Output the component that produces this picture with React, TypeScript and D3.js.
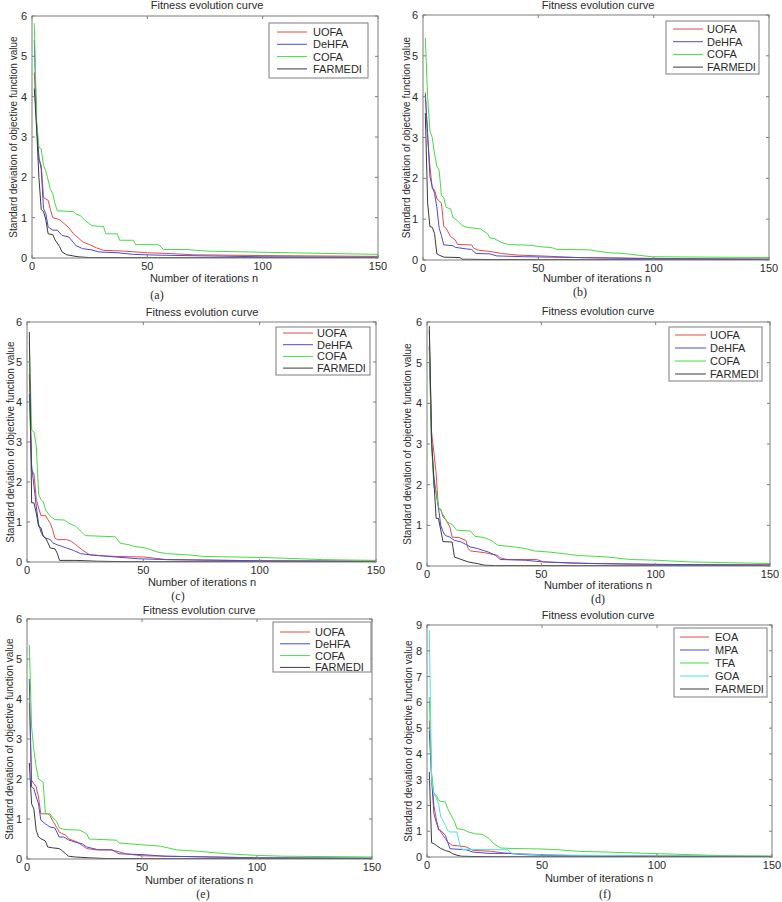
import React from 'react';
import * as d3 from 'd3';

type Pt = [number, number];

const TITLE = 'Fitness evolution curve';
const X_LABEL = 'Number of iterations n';
const Y_LABEL = 'Standard deviation of objective function value';
const X_TICKS = [0, 50, 100, 150];
const Y_TICKS_6 = [0, 1, 2, 3, 4, 5, 6];
const Y_TICKS_9 = [0, 1, 2, 3, 4, 5, 6, 7, 8, 9];
const PANEL_TAGS = ['(a)', '(b)', '(c)', '(d)', '(e)', '(f)'];
const NAMES_AE = ['UOFA', 'DeHFA', 'COFA', 'FARMEDI'];
const NAMES_F = ['EOA', 'MPA', 'TFA', 'GOA', 'FARMEDI'];

// Panel (a)
const A_UOFA: Pt[] = [[1,4.6],[2,3.3],[3,2.45],[4,2.3],[5,1.5],[7,1.43],[8,1.2],[9,1.0],[12,0.95],[14,0.85],[16,0.75],[18,0.6],[20,0.5],[22,0.4],[25,0.33],[28,0.25],[31,0.19],[40,0.17],[50,0.13],[60,0.11],[70,0.08],[100,0.06],[150,0.04]];
const A_DEHFA: Pt[] = [[1,5.4],[2,3.3],[3,2.5],[4,2.2],[5,1.22],[6,1.1],[7,0.77],[9,0.69],[11,0.69],[13,0.56],[16,0.52],[19,0.31],[22,0.23],[26,0.2],[29,0.15],[37,0.13],[44,0.09],[55,0.07],[100,0.03],[150,0.02]];
const A_COFA: Pt[] = [[1,5.82],[2,3.4],[3,2.75],[4,2.7],[5,2.29],[6,2.16],[8,1.7],[9,1.59],[10,1.34],[11,1.17],[18,1.15],[19,1.09],[21,1.05],[23,0.93],[26,0.8],[31,0.78],[32,0.6],[37,0.6],[38,0.44],[44,0.44],[45,0.33],[55,0.33],[57,0.21],[67,0.21],[76,0.17],[102,0.14],[150,0.09]];
const A_FARMEDI: Pt[] = [[1,4.2],[2,3.2],[3,2.0],[4,1.2],[5,1.15],[6,0.95],[7,0.6],[9,0.58],[10,0.45],[12,0.28],[13,0.15],[15,0.08],[20,0.03],[25,0.01],[150,0.005]];

// Panel (b)
const B_UOFA: Pt[] = [[1,4.1],[2,3.0],[3,2.3],[4,1.75],[5,1.72],[6,1.5],[7,1.45],[8,1.39],[9,0.82],[10,0.78],[12,0.57],[14,0.49],[15,0.38],[21,0.37],[22,0.29],[24,0.24],[29,0.21],[34,0.16],[41,0.12],[51,0.1],[67,0.06],[100,0.04],[150,0.02]];
const B_DEHFA: Pt[] = [[1,4.05],[2,3.1],[3,2.04],[4,1.8],[5,1.63],[6,1.3],[7,0.78],[8,0.6],[9,0.37],[13,0.35],[14,0.31],[19,0.27],[21,0.26],[23,0.16],[29,0.15],[32,0.1],[44,0.08],[100,0.03],[150,0.02]];
const B_COFA: Pt[] = [[1,5.44],[2,4.0],[3,3.17],[4,3.0],[5,2.6],[6,2.3],[7,2.2],[8,1.58],[9,1.53],[10,1.29],[12,1.25],[13,1.04],[15,0.96],[17,0.84],[19,0.8],[25,0.76],[28,0.64],[29,0.54],[31,0.52],[34,0.43],[37,0.38],[47,0.36],[50,0.33],[56,0.3],[58,0.26],[72,0.25],[80,0.18],[87,0.16],[99,0.08],[150,0.06]];
const B_FARMEDI: Pt[] = [[1,3.6],[2,1.4],[3,0.82],[4,0.8],[5,0.65],[6,0.15],[7,0.12],[9,0.07],[16,0.06],[17,0.02],[30,0.01],[150,0.005]];

// Panel (c)
const C_UOFA: Pt[] = [[1,4.7],[2,2.3],[3,2.2],[4,1.56],[5,1.35],[6,1.16],[8,1.16],[9,1.06],[10,0.97],[11,0.81],[12,0.6],[13,0.56],[17,0.56],[19,0.52],[21,0.43],[24,0.29],[27,0.18],[31,0.16],[38,0.14],[50,0.125],[54,0.1],[60,0.06],[100,0.03],[150,0.02]];
const C_DEHFA: Pt[] = [[1,4.2],[2,2.4],[3,1.9],[4,1.39],[5,0.95],[6,0.75],[7,0.64],[8,0.6],[10,0.56],[11,0.48],[13,0.43],[15,0.39],[17,0.35],[20,0.29],[23,0.21],[27,0.18],[31,0.16],[38,0.125],[48,0.08],[60,0.06],[100,0.03],[150,0.02]];
const C_COFA: Pt[] = [[1,5.5],[2,3.3],[3,3.25],[4,2.9],[5,1.7],[6,1.56],[7,1.5],[8,1.3],[9,1.22],[10,1.14],[11,1.1],[12,1.06],[16,1.05],[18,0.97],[21,0.89],[24,0.72],[25,0.66],[38,0.63],[40,0.47],[44,0.43],[46,0.39],[51,0.35],[56,0.25],[60,0.21],[69,0.18],[76,0.14],[89,0.125],[103,0.11],[113,0.09],[127,0.06],[150,0.04]];
const C_FARMEDI: Pt[] = [[1,5.75],[2,1.48],[3,1.48],[4,1.22],[5,0.89],[6,0.85],[7,0.64],[8,0.6],[9,0.48],[10,0.35],[12,0.33],[13,0.22],[14,0.04],[21,0.04],[30,0.02],[40,0.01],[150,0.005]];

// Panel (d)
const D_UOFA: Pt[] = [[1,5.8],[2,3.3],[3,2.8],[4,2.27],[5,1.41],[6,1.4],[7,1.2],[8,1.16],[9,1.06],[10,0.96],[11,0.71],[14,0.7],[17,0.63],[18,0.43],[19,0.37],[25,0.33],[31,0.26],[32,0.2],[35,0.16],[48,0.16],[51,0.1],[63,0.07],[100,0.04],[150,0.03]];
const D_DEHFA: Pt[] = [[1,5.4],[2,3.0],[3,2.19],[4,1.78],[5,1.45],[6,1.0],[7,0.85],[8,0.75],[10,0.71],[12,0.63],[15,0.59],[17,0.53],[19,0.47],[22,0.43],[27,0.34],[30,0.26],[32,0.16],[43,0.14],[51,0.1],[72,0.06],[100,0.04],[150,0.02]];
const D_COFA: Pt[] = [[1,5.4],[2,3.0],[3,1.94],[4,1.86],[5,1.45],[6,1.37],[8,1.16],[9,1.08],[11,1.02],[13,0.88],[19,0.86],[21,0.73],[25,0.7],[28,0.63],[31,0.51],[38,0.47],[43,0.43],[47,0.37],[54,0.34],[60,0.3],[66,0.26],[79,0.22],[89,0.16],[101,0.14],[115,0.1],[150,0.06]];
const D_FARMEDI: Pt[] = [[1,5.9],[2,3.1],[3,2.1],[4,1.17],[5,1.17],[6,0.89],[7,0.6],[11,0.59],[12,0.22],[14,0.18],[18,0.1],[22,0.06],[25,0.02],[30,0.01],[150,0.005]];

// Panel (e)
const E_UOFA: Pt[] = [[1,3.9],[2,1.97],[3,1.88],[4,1.8],[5,1.55],[6,1.13],[9,1.13],[10,1.09],[11,0.97],[13,0.78],[14,0.67],[17,0.59],[18,0.51],[22,0.42],[24,0.34],[26,0.26],[30,0.23],[36,0.23],[40,0.18],[43,0.13],[50,0.08],[60,0.07],[100,0.03],[150,0.02]];
const E_DEHFA: Pt[] = [[1,4.5],[2,1.8],[3,1.76],[4,1.55],[5,1.38],[6,0.97],[8,0.88],[9,0.84],[10,0.8],[12,0.78],[13,0.67],[14,0.55],[16,0.55],[18,0.48],[21,0.42],[24,0.38],[26,0.3],[31,0.23],[37,0.23],[40,0.13],[50,0.11],[60,0.07],[100,0.03],[150,0.02]];
const E_COFA: Pt[] = [[1,5.35],[2,3.3],[3,2.72],[4,2.3],[5,2.0],[7,1.92],[8,1.13],[10,1.13],[11,1.05],[13,0.93],[14,0.78],[16,0.74],[23,0.72],[26,0.63],[27,0.5],[39,0.47],[40,0.4],[49,0.36],[58,0.32],[65,0.23],[75,0.19],[87,0.13],[100,0.09],[111,0.07],[150,0.05]];
const E_FARMEDI: Pt[] = [[1,2.4],[2,1.38],[3,1.25],[4,0.72],[5,0.55],[6,0.51],[7,0.48],[8,0.45],[9,0.3],[11,0.28],[14,0.26],[15,0.22],[17,0.12],[18,0.07],[21,0.05],[27,0.03],[35,0.01],[150,0.005]];

// Panel (f)
const F_EOA: Pt[] = [[1,5.3],[2,3.17],[3,2.0],[4,1.5],[5,1.1],[6,0.97],[8,0.71],[9,0.58],[11,0.45],[14,0.43],[17,0.39],[20,0.26],[28,0.22],[34,0.15],[50,0.09],[66,0.05],[100,0.04],[150,0.02]];
const F_MPA: Pt[] = [[1,4.9],[2,3.04],[3,1.68],[4,1.36],[5,1.07],[6,1.03],[8,0.84],[9,0.58],[10,0.32],[17,0.28],[20,0.19],[27,0.14],[36,0.14],[42,0.09],[57,0.05],[100,0.03],[150,0.02]];
const F_TFA: Pt[] = [[1,6.2],[2,3.23],[3,2.46],[4,2.4],[5,2.2],[6,2.16],[8,2.13],[9,1.88],[10,1.7],[12,1.36],[13,1.1],[16,1.06],[18,0.97],[21,0.9],[24,0.88],[27,0.71],[29,0.52],[32,0.35],[37,0.33],[50,0.31],[57,0.28],[66,0.22],[79,0.19],[100,0.13],[115,0.09],[129,0.05],[150,0.04]];
const F_GOA: Pt[] = [[1,8.8],[2,3.0],[3,2.45],[4,2.3],[5,2.07],[6,1.55],[7,1.4],[8,1.23],[9,1.03],[10,0.97],[13,0.97],[14,0.58],[15,0.3],[35,0.28],[37,0.13],[50,0.08],[100,0.04],[150,0.02]];
const F_FARMEDI: Pt[] = [[1,3.3],[2,0.55],[3,0.52],[4,0.45],[6,0.33],[8,0.25],[10,0.2],[11,0.13],[13,0.07],[15,0.03],[20,0.02],[30,0.01],[150,0.005]];

const COLORS_AE = ['#e34b4b', '#4b4bd6', '#46dc46', '#3a3a3a'];
const COLORS_F = ['#e34b4b', '#4b4bd6', '#46dc46', '#4ee0e0', '#3a3a3a'];

const PANEL_DATA: Pt[][][] = [
  [A_UOFA, A_DEHFA, A_COFA, A_FARMEDI],
  [B_UOFA, B_DEHFA, B_COFA, B_FARMEDI],
  [C_UOFA, C_DEHFA, C_COFA, C_FARMEDI],
  [D_UOFA, D_DEHFA, D_COFA, D_FARMEDI],
  [E_UOFA, E_DEHFA, E_COFA, E_FARMEDI],
  [F_EOA, F_MPA, F_TFA, F_GOA, F_FARMEDI],
];

const LAYOUT = [
  { l: 32, t: 16, r: 378, b: 258, ymax: 6, titleX: 207, titleY: 9, xlabX: 204, xlabY: 282, ylabX: 13, tagX: 157, tagY: 299, leg: { x: 269, y: 23, w: 99, h: 55, row0: 32, dy: 12.3, l0: 277, l1: 307, tx: 313 } },
  { l: 423, t: 15, r: 769, b: 260, ymax: 6, titleX: 598, titleY: 9, xlabX: 597, xlabY: 282, ylabX: 406, tagX: 580, tagY: 296, leg: { x: 666, y: 21, w: 93, h: 53, row0: 29, dy: 12.7, l0: 673, l1: 703, tx: 707 } },
  { l: 27, t: 322, r: 376, b: 562, ymax: 6, titleX: 202, titleY: 316, xlabX: 202, xlabY: 586, ylabX: 10, tagX: 178, tagY: 600, leg: { x: 276, y: 327, w: 94, h: 48, row0: 333, dy: 11.7, l0: 283, l1: 313, tx: 317 } },
  { l: 427, t: 322, r: 770, b: 566, ymax: 6, titleX: 598, titleY: 315, xlabX: 598, xlabY: 589, ylabX: 407, tagX: 598, tagY: 603, leg: { x: 669, y: 327, w: 93, h: 54, row0: 335, dy: 13, l0: 675, l1: 706, tx: 710 } },
  { l: 27, t: 619, r: 372, b: 859, ymax: 6, titleX: 199, titleY: 614, xlabX: 199, xlabY: 884, ylabX: 9, tagX: 203, tagY: 898, leg: { x: 273, y: 622, w: 98, h: 50, row0: 632, dy: 11.8, l0: 280, l1: 310, tx: 315 } },
  { l: 427, t: 625, r: 772, b: 857, ymax: 9, titleX: 598, titleY: 619, xlabX: 599, xlabY: 882, ylabX: 408, tagX: 605, tagY: 898, leg: { x: 674, y: 628, w: 93, h: 69, row0: 637, dy: 13, l0: 680, l1: 709, tx: 715 } },
];

const SANS = 'Arial, "Liberation Sans", Helvetica, sans-serif';
const SERIF = '"Times New Roman", "Liberation Serif", serif';
const AXIS_COLOR = '#7c7c7c';
const TEXT_COLOR = '#2a2a2a';

function Panel({ idx }: { idx: number }) {
  const L = LAYOUT[idx];
  const data = PANEL_DATA[idx];
  const isF = idx === 5;
  const names = isF ? NAMES_F : NAMES_AE;
  const colors = isF ? COLORS_F : COLORS_AE;
  const yTicks = isF ? Y_TICKS_9 : Y_TICKS_6;
  const x = d3.scaleLinear().domain([0, 150]).range([L.l, L.r]);
  const y = d3.scaleLinear().domain([0, L.ymax]).range([L.b, L.t]);
  const line = d3.line<Pt>().x((d) => x(d[0])).y((d) => y(d[1]));
  const tk = 3;
  const clipId = `clip${idx}`;
  return (
    <g>
      <clipPath id={clipId}>
        <rect x={L.l} y={L.t} width={L.r - L.l} height={L.b - L.t} />
      </clipPath>
      <g clipPath={`url(#${clipId})`}>
        {data.map((s, i) => (
          <path key={i} d={line(s) || ''} fill="none" stroke={colors[i]} strokeWidth={1} strokeLinejoin="round" />
        ))}
      </g>
      <rect x={L.l} y={L.t} width={L.r - L.l} height={L.b - L.t} fill="none" stroke={AXIS_COLOR} strokeWidth={1} />
      {X_TICKS.map((v) => (
        <g key={'x' + v}>
          <line x1={x(v)} x2={x(v)} y1={L.b} y2={L.b - tk} stroke={AXIS_COLOR} />
          <line x1={x(v)} x2={x(v)} y1={L.t} y2={L.t + tk} stroke={AXIS_COLOR} />
          <text x={x(v)} y={L.b + 12} textAnchor="middle" fontSize={11} fontFamily={SANS} fill={TEXT_COLOR}>{v}</text>
        </g>
      ))}
      {yTicks.map((v) => (
        <g key={'y' + v}>
          <line x1={L.l} x2={L.l + tk} y1={y(v)} y2={y(v)} stroke={AXIS_COLOR} />
          <line x1={L.r} x2={L.r - tk} y1={y(v)} y2={y(v)} stroke={AXIS_COLOR} />
          <text x={L.l - 5} y={y(v) + 4} textAnchor="end" fontSize={11} fontFamily={SANS} fill={TEXT_COLOR}>{v}</text>
        </g>
      ))}
      <text x={L.titleX} y={L.titleY} textAnchor="middle" fontSize={11} fontFamily={SANS} fill={TEXT_COLOR}>{TITLE}</text>
      <text x={L.xlabX} y={L.xlabY} textAnchor="middle" fontSize={11} fontFamily={SANS} fill={TEXT_COLOR}>{X_LABEL}</text>
      <text transform={`translate(${L.ylabX},${(L.t + L.b) / 2}) rotate(-90)`} dy="0.35em" textAnchor="middle" fontSize={10} fontFamily={SANS} fill={TEXT_COLOR}>{Y_LABEL}</text>
      <text x={L.tagX} y={L.tagY} textAnchor="middle" fontSize={12} fontFamily={SERIF} fill={TEXT_COLOR}>{PANEL_TAGS[idx]}</text>
      <rect x={L.leg.x} y={L.leg.y} width={L.leg.w} height={L.leg.h} fill="#fff" stroke={AXIS_COLOR} strokeWidth={1} />
      {names.map((n, i) => {
        const ry = L.leg.row0 + i * L.leg.dy;
        return (
          <g key={n}>
            <line x1={L.leg.l0} x2={L.leg.l1} y1={ry} y2={ry} stroke={colors[i]} strokeWidth={1} />
            <text x={L.leg.tx} y={ry + 4} fontSize={11} fontFamily={SANS} fill={TEXT_COLOR}>{n}</text>
          </g>
        );
      })}
    </g>
  );
}

export default function App() {
  return (
    <svg width={782} height={902} style={{ position: 'absolute', left: 0, top: 0, background: '#fff' }}>
      <rect x={0} y={0} width={782} height={902} fill="#fff" />
      {LAYOUT.map((_, i) => (
        <Panel key={i} idx={i} />
      ))}
    </svg>
  );
}
